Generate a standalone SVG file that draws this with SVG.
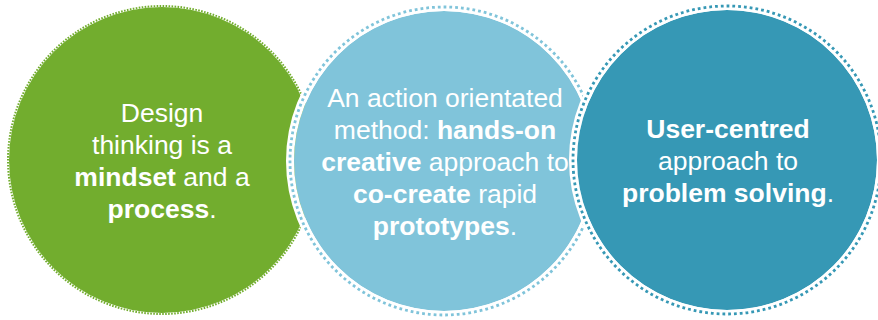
<svg xmlns="http://www.w3.org/2000/svg" width="878" height="320" viewBox="0 0 878 320">
  <style>
    .t { font-family: "Liberation Sans", Arial, sans-serif; font-size: 26.5px; fill: #ffffff; text-anchor: middle; }
    .b { font-weight: bold; }
    .band { fill: none; stroke: #ffffff; stroke-width: 8; }
    .dots { fill: none; stroke-width: 2.8; stroke-dasharray: 2.8 3; }
    .green { fill: #72ad2e; }
    .light { fill: #80c4da; }
    .teal { fill: #3698b5; }
  </style>
  <rect width="878" height="320" fill="#ffffff"/>

  <!-- Left circle: mindset -->
  <g id="node-mindset">
    <circle class="green" cx="162" cy="160" r="153"/>
    <circle cx="162" cy="160" r="154" fill="none" stroke="#72ad2e" stroke-width="2" stroke-dasharray="1.6 1.4"/>
    <text class="t" x="162" y="122">Design</text>
    <text class="t" x="162" y="154">thinking is a</text>
    <text class="t" x="162" y="186"><tspan class="b">mindset</tspan> and a</text>
    <text class="t" x="162" y="218"><tspan class="b">process</tspan>.</text>
  </g>

  <!-- Middle circle: action oriented method -->
  <g id="node-method">
    <circle class="light" cx="444" cy="161" r="150"/>
    <circle class="band" cx="444" cy="161" r="154"/>
    <circle class="dots" cx="444" cy="161" r="154" stroke="#80c4da"/>
    <text class="t" x="445" y="107">An action orientated</text>
    <text class="t" x="445" y="139">method: <tspan class="b">hands-on</tspan></text>
    <text class="t" x="445" y="171"><tspan class="b">creative</tspan> approach to</text>
    <text class="t" x="445" y="203"><tspan class="b">co-create</tspan> rapid</text>
    <text class="t" x="445" y="235"><tspan class="b">prototypes</tspan>.</text>
  </g>

  <!-- Right circle: user-centred -->
  <g id="node-user">
    <circle class="teal" cx="727" cy="160" r="150"/>
    <circle class="band" cx="727" cy="160" r="154"/>
    <circle class="dots" cx="727" cy="160" r="154" stroke="#3698b5"/>
    <text class="t" x="728" y="138"><tspan class="b">User-centred</tspan></text>
    <text class="t" x="728" y="170">approach to</text>
    <text class="t" x="728" y="202"><tspan class="b">problem solving</tspan>.</text>
  </g>

  <g id="connectors"/>
</svg>
